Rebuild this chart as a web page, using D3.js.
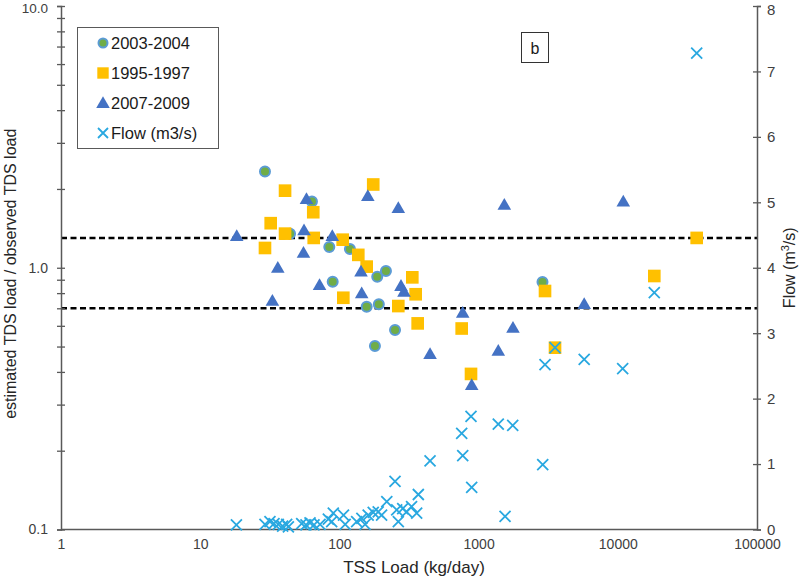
<!DOCTYPE html>
<html><head><meta charset="utf-8">
<script src="https://cdn.jsdelivr.net/npm/d3@7"></script>
<style>
html,body{margin:0;padding:0;background:#fff;}
svg{display:block;font-family:"Liberation Sans",Arial,sans-serif;}
</style></head><body>
<svg id="chart" width="800" height="579"></svg>
<script>
// ---- data ----
const tss2003 = [29.2, 63.5, 44.2, 84.6, 119, 89.5, 187, 216, 157, 192, 251, 180, 2877];
const ratio2003 = [2.33, 1.79, 1.35, 1.20, 1.18, 0.885, 0.924, 0.972, 0.710, 0.725, 0.578, 0.502, 0.882];

const tss1995 = [40.7, 64.9, 32.1, 40.7, 65.4, 29.2, 105.6, 136.7, 157, 106.7, 175, 334, 353, 265, 365, 756, 882, 3000, 3540, 18290, 36880];
const ratio1995 = [1.97, 1.63, 1.48, 1.35, 1.30, 1.19, 1.28, 1.12, 1.01, 0.768, 2.08, 0.919, 0.792, 0.714, 0.613, 0.586, 0.393, 0.815, 0.495, 0.930, 1.30];

const tss2007 = [18.3, 58.0, 55.7, 55.2, 88.9, 36.1, 72.0, 33.0, 160, 265, 143, 144.6, 277, 291, 448, 769, 892, 1385, 1766, 1530, 5736, 10950];
const ratio2007 = [1.32, 1.83, 1.39, 1.14, 1.32, 1.00, 0.859, 0.748, 1.88, 1.69, 0.966, 0.799, 0.852, 0.810, 0.468, 0.672, 0.356, 0.481, 0.590, 1.74, 0.726, 1.79];

const tssFlow = [36880, 18290, 10840, 5736, 3000, 3540, 2888, 1549, 1385, 1758, 882, 756, 769, 892, 448, 369, 251, 219, 258, 265, 285, 304, 330, 359, 201, 190, 175, 161, 153, 145, 133, 110, 107, 90.4, 88, 83.3, 72.6, 65.7, 61.5, 57.5, 53.6, 43.0, 41.8, 39.1, 36.4, 33.9, 31.7, 29.2, 18.2];
const flowVals = [7.28, 3.62, 2.46, 2.60, 2.52, 2.78, 0.99, 0.20, 1.61, 1.59, 1.73, 1.47, 1.13, 0.645, 1.05, 0.535, 0.737, 0.425, 0.30, 0.12, 0.32, 0.27, 0.35, 0.25, 0.22, 0.27, 0.26, 0.22, 0.08, 0.17, 0.12, 0.08, 0.22, 0.25, 0.12, 0.16, 0.08, 0.07, 0.10, 0.07, 0.09, 0.04, 0.08, 0.05, 0.08, 0.09, 0.12, 0.08, 0.07];

const refLines = [1.3, 0.7];
const xTicks = [1, 10, 100, 1000, 10000, 100000];
const xTickLabels = ["1", "10", "100", "1000", "10000", "100000"];
const yMajor = [0.1, 1, 10];
const yMajorLabels = ["0.1", "1.0", "10.0"];
const yRightTicks = [0, 1, 2, 3, 4, 5, 6, 7, 8];
const legendLabels = ["2003-2004", "1995-1997", "2007-2009", "Flow (m3/s)"];

// ---- layout ----
const L = 61, R = 757, T = 6, B = 529.5;
const axisColor = "#595959";
const cGreen = "#70AD47", cCircleStroke = "#5B9BD5", cYellow = "#FFC000", cBlue = "#4472C4", cFlow = "#29A8E0";

const svg = d3.select("#chart");
const x = d3.scaleLog().domain([1, 100000]).range([L, R]);
const y = d3.scaleLog().domain([0.1, 10]).range([B, T]);
const y2 = d3.scaleLinear().domain([0, 8]).range([B, T]);

// minor ticks for log axis
const yAll = [];
[0.1, 1].forEach(d => { for (let k = 1; k <= 9; k++) yAll.push(+(d * k).toFixed(3)); });
yAll.push(10);

// reference dashed lines
svg.append("g").selectAll("line").data(refLines).join("line")
  .attr("x1", L).attr("x2", R)
  .attr("y1", d => y(d)).attr("y2", d => y(d))
  .attr("stroke", "#000").attr("stroke-width", 2.4).attr("stroke-dasharray", "6,3.5");

// axes
function styleAxis(g) {
  g.selectAll(".domain").attr("stroke", axisColor).attr("stroke-width", 1.5);
  g.selectAll(".tick line").attr("stroke", axisColor).attr("stroke-width", 1.3);
  g.selectAll(".tick text").attr("fill", "#404040").style("font-size", "14px")
   .style("font-family", '"Liberation Sans",Arial,sans-serif');
}
// left axis (ticks crossing)
const gl = svg.append("g").attr("transform", `translate(${L},0)`)
  .call(d3.axisLeft(y).tickValues(yAll).tickSize(4).tickPadding(9)
    .tickFormat(d => { const i = yMajor.findIndex(v => Math.abs(v - d) < 1e-9); return i >= 0 ? yMajorLabels[i] : ""; }));
styleAxis(gl);
gl.selectAll(".tick text").filter(d => d === 10).attr("dy", "0.5em").style("font-size", "13.5px");
const gl2 = svg.append("g").attr("transform", `translate(${L},0)`)
  .call(d3.axisRight(y).tickValues(yAll).tickSize(4).tickFormat(""));
styleAxis(gl2); gl2.select(".domain").remove();

// right axis
const gr = svg.append("g").attr("transform", `translate(${R},0)`)
  .call(d3.axisRight(y2).tickValues(yRightTicks).tickSize(4).tickPadding(6).tickFormat(d3.format("d")));
styleAxis(gr);
gr.selectAll(".tick text").style("font-size", "15px");
gr.selectAll(".tick text").filter(d => d === 8).attr("dy", "0.55em");
const gr2 = svg.append("g").attr("transform", `translate(${R},0)`)
  .call(d3.axisLeft(y2).tickValues(yRightTicks).tickSize(4).tickFormat(""));
styleAxis(gr2); gr2.select(".domain").remove();

// bottom axis
const gb = svg.append("g").attr("transform", `translate(0,${B})`)
  .call(d3.axisBottom(x).tickValues(xTicks).tickSize(0).tickPadding(10)
    .tickFormat((d, i) => xTickLabels[i]));
styleAxis(gb);
gb.select(".domain").attr("d", `M${L},0H${R}`);

// axis titles
svg.append("text").attr("x", (L + R) / 2 + 5).attr("y", 573).attr("text-anchor", "middle")
  .style("font-size", "17px").attr("fill", "#262626").text("TSS Load (kg/day)");
svg.append("text").attr("transform", `translate(16,${(T + B) / 2 + 6}) rotate(-90)`)
  .attr("text-anchor", "middle").style("font-size", "16px").attr("fill", "#262626")
  .text("estimated TDS load / observed TDS load");
const rt = svg.append("text").attr("transform", `translate(795,${(T + B) / 2}) rotate(-90)`)
  .attr("text-anchor", "middle").style("font-size", "16px").attr("fill", "#262626");
rt.append("tspan").text("Flow (m");
rt.append("tspan").attr("dy", -6).style("font-size", "11px").text("3");
rt.append("tspan").attr("dy", 6).text("/s)");

// marker symbols
const sq = d3.symbol().type(d3.symbolSquare).size(160)();
const tri = d3.symbol().type(d3.symbolTriangle).size(80)();
function cross(s) { return `M${-s},${-s}L${s},${s}M${-s},${s}L${s},${-s}`; }

// series: circles
svg.append("g").selectAll("circle").data(tss2003.map((d, i) => [d, ratio2003[i]])).join("circle")
  .attr("cx", d => x(d[0])).attr("cy", d => y(d[1])).attr("r", 5)
  .attr("fill", cGreen).attr("stroke", cCircleStroke).attr("stroke-width", 2);
// squares
svg.append("g").selectAll("path").data(tss1995.map((d, i) => [d, ratio1995[i]])).join("path")
  .attr("d", sq).attr("transform", d => `translate(${x(d[0])},${y(d[1])})`).attr("fill", cYellow);
// triangles
svg.append("g").selectAll("path").data(tss2007.map((d, i) => [d, ratio2007[i]])).join("path")
  .attr("d", tri).attr("transform", d => `translate(${x(d[0])},${y(d[1]) + 1})`).attr("fill", cBlue);
// flow crosses
svg.append("g").selectAll("path").data(tssFlow.map((d, i) => [d, flowVals[i]])).join("path")
  .attr("d", cross(5.5)).attr("transform", d => `translate(${x(d[0])},${y2(d[1])})`)
  .attr("fill", "none").attr("stroke", cFlow).attr("stroke-width", 1.8);

// legend
const lg = svg.append("g");
lg.append("rect").attr("x", 77.5).attr("y", 27.5).attr("width", 141).attr("height", 121)
  .attr("fill", "#fff").attr("stroke", "#595959").attr("stroke-width", 1);
const ly = [43, 73, 103, 133];
const mx = 103;
lg.append("circle").attr("cx", mx).attr("cy", ly[0]).attr("r", 4.5).attr("fill", cGreen)
  .attr("stroke", cCircleStroke).attr("stroke-width", 2);
lg.append("path").attr("d", d3.symbol().type(d3.symbolSquare).size(130)()).attr("transform", `translate(${mx},${ly[1]})`).attr("fill", cYellow);
lg.append("path").attr("d", tri).attr("transform", `translate(${mx},${ly[2] + 1})`).attr("fill", cBlue);
lg.append("path").attr("d", cross(5)).attr("transform", `translate(${mx},${ly[3]})`)
  .attr("fill", "none").attr("stroke", cFlow).attr("stroke-width", 1.8);
lg.selectAll("text.lt").data(legendLabels).join("text").attr("class", "lt")
  .attr("x", 111).attr("y", (d, i) => ly[i]).attr("dy", "0.36em")
  .style("font-size", "16.5px").attr("fill", "#1a1a1a").text(d => d);

// panel label
svg.append("rect").attr("x", 521.5).attr("y", 32.5).attr("width", 27).attr("height", 30)
  .attr("fill", "#fff").attr("stroke", "#333").attr("stroke-width", 1);
svg.append("text").attr("x", 535).attr("y", 48).attr("dy", "0.36em").attr("text-anchor", "middle")
  .style("font-size", "16px").attr("fill", "#1a1a1a").text("b");
</script>
</body></html>
